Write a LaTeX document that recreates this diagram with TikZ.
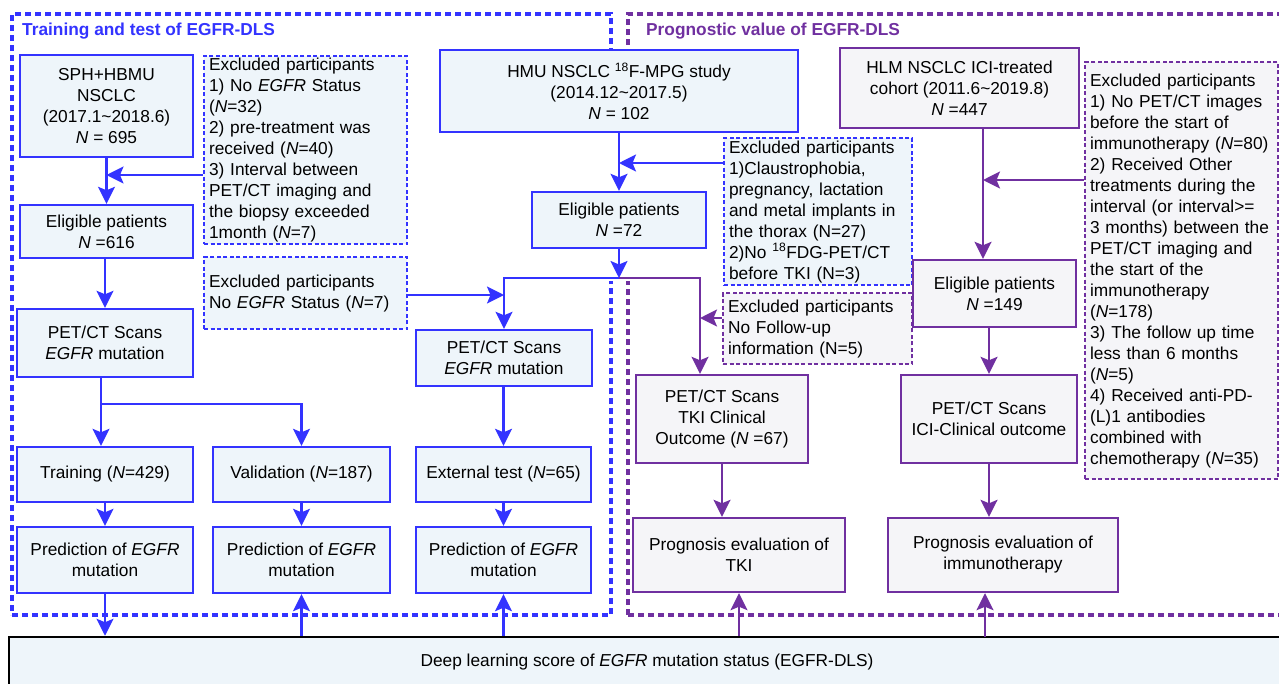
\documentclass[tikz,border=0pt]{standalone}
\usepackage{fontspec}
\setmainfont{Liberation Sans}
\usepackage{tikz}
\usetikzlibrary{arrows.meta,positioning,calc}
\definecolor{dlsblue}{RGB}{51,51,255}
\definecolor{dlspurple}{RGB}{112,48,160}
\definecolor{dlsbluefill}{RGB}{238,245,250}
\definecolor{dlsgrayfill}{RGB}{245,245,248}

\begin{document}
\begin{tikzpicture}[x=1pt, y=-1pt, >={Stealth[length=17pt,width=17pt,inset=3.5pt]},
    every node/.style={font=\fontsize{17.3}{21}\selectfont},
    bluebox/.style={draw=dlsblue, line width=2.4pt, fill=dlsbluefill, rectangle, align=center, inner sep=2pt},
    purplebox/.style={draw=dlspurple, line width=2.4pt, fill=dlsgrayfill, rectangle, align=center, inner sep=2pt},
    blueexcl/.style={draw=dlsblue, line width=2.2pt, dash pattern=on 4pt off 2.5pt, fill=dlsbluefill, align=left, anchor=north west, inner xsep=5pt, inner ysep=2pt},
    purpleexcl/.style={draw=dlspurple, line width=2.2pt, dash pattern=on 4pt off 2.5pt, fill=dlsgrayfill, align=left, anchor=north west, inner xsep=5pt, inner ysep=2pt},
    frame/.style={line width=3.2pt, dash pattern=on 6pt off 4pt, minimum width=#1},
    bluearrow/.style={draw=dlsblue, line width=2.2pt, ->},
    purplearrow/.style={draw=dlspurple, line width=2.2pt, ->}]
    \useasboundingbox (0,0) rectangle (1279,683);

    \node [frame=599pt, draw=dlsblue, minimum height=601pt] (trainframe) at (311.5,314.5) {};
    \node [frame=662pt, draw=dlspurple, minimum height=601pt] (progframe) at (959,314.5) {};
    \fill [white] (600,50) rectangle (640,281);
    \node [anchor=west, inner sep=0pt, text=dlsblue, font=\fontsize{17.3}{21}\selectfont\bfseries] (traintitle) at (22,31) {Training and test of EGFR-DLS};
    \node [anchor=west, inner sep=0pt, text=dlspurple, font=\fontsize{17.3}{21}\selectfont\bfseries] (progtitle) at (646,31) {Prognostic value of EGFR-DLS};

    \node [bluebox, minimum width=173pt, minimum height=102pt] (sph) at (106.5,106) {SPH+HBMU\\NSCLC\\(2017.1\textasciitilde2018.6)\\\textit{N} = 695};
    \node [bluebox, minimum width=173pt, minimum height=53pt] (elig1) at (106.5,231.5) {Eligible patients\\\textit{N} =616};
    \node [bluebox, minimum width=176pt, minimum height=68pt] (pet1) at (105,343) {PET/CT Scans\\\textit{EGFR} mutation};
    \node [bluebox, minimum width=176pt, minimum height=55pt] (train) at (105,474.5) {Training (\textit{N}=429)};
    \node [bluebox, minimum width=177pt, minimum height=55pt] (valid) at (301.5,474.5) {Validation (\textit{N}=187)};
    \node [bluebox, minimum width=175pt, minimum height=55pt] (ext) at (503.5,474.5) {External test (\textit{N}=65)};
    \node [bluebox, minimum width=176pt, minimum height=66pt] (pred1) at (105,560) {Prediction of \textit{EGFR}\\mutation};
    \node [bluebox, minimum width=177pt, minimum height=66pt] (pred2) at (301.5,560) {Prediction of \textit{EGFR}\\mutation};
    \node [bluebox, minimum width=175pt, minimum height=66pt] (pred3) at (503.5,560) {Prediction of \textit{EGFR}\\mutation};
    \node [bluebox, minimum width=176pt, minimum height=56pt] (pet2) at (504,358) {PET/CT Scans\\\textit{EGFR} mutation};
    \node [bluebox, minimum width=358pt, minimum height=82pt] (hmu) at (619,91) {HMU NSCLC \textsuperscript{18}F-MPG study\\(2014.12\textasciitilde2017.5)\\\textit{N} = 102};
    \node [bluebox, minimum width=174pt, minimum height=56pt] (elig2) at (619,220) {Eligible patients\\\textit{N} =72};

    \node [blueexcl, minimum height=188pt, text width=193pt] (excl1) at (203,55) {Excluded participants\\1) No \textit{EGFR} Status\\(\textit{N}=32)\\2) pre-treatment was\\received (\textit{N}=40)\\3) Interval between\\PET/CT imaging and\\the biopsy exceeded\\1month (\textit{N}=7)};
    \node [blueexcl, minimum height=72pt, text width=193pt] (excl2) at (203,256) {Excluded participants\\No \textit{EGFR} Status (\textit{N}=7)};
    \node [blueexcl, minimum height=147pt, text width=178pt] (excl3) at (723,137) {Excluded participants\\1)Claustrophobia,\\pregnancy, lactation\\and metal implants in\\the thorax (N=27)\\2)No \textsuperscript{18}FDG-PET/CT\\before TKI (N=3)};

    \node [purplebox, minimum width=239pt, minimum height=80pt] (hlm) at (959.5,88) {HLM NSCLC ICI-treated\\cohort (2011.6\textasciitilde2019.8)\\\textit{N} =447};
    \node [purplebox, minimum width=163pt, minimum height=67pt] (elig3) at (994.5,293.5) {Eligible patients\\\textit{N} =149};
    \node [purplebox, minimum width=172pt, minimum height=88pt] (pet3) at (722,419) {PET/CT Scans\\TKI Clinical\\Outcome (\textit{N} =67)};
    \node [purplebox, minimum width=176pt, minimum height=88pt] (pet4) at (989,419) {PET/CT Scans\\ICI-Clinical outcome};
    \node [purplebox, minimum width=212pt, minimum height=74pt] (prog1) at (739,555) {Prognosis evaluation of\\TKI};
    \node [purplebox, minimum width=230pt, minimum height=74pt] (prog2) at (1003,555) {Prognosis evaluation of\\immunotherapy};

    \node [purpleexcl, minimum height=417pt, text width=183pt] (excl4) at (1084,61) {Excluded participants\\1) No PET/CT images\\before the start of\\immunotherapy (\textit{N}=80)\\2) Received Other\\treatments during the\\interval (or interval>=\\3 months) between the\\PET/CT imaging and\\the start of the\\immunotherapy\\(\textit{N}=178)\\3) The follow up time\\less than 6 months\\(\textit{N}=5)\\4) Received anti-PD-\\(L)1 antibodies\\combined with\\chemotherapy (\textit{N}=35)};
    \node [purpleexcl, minimum height=71pt, text width=179pt] (excl5) at (722,292) {Excluded participants\\No Follow-up\\information (N=5)};

    \node [draw=black, line width=2.5pt, fill=dlsbluefill, minimum width=1276pt, minimum height=50pt] (dls) at (647,662) {Deep learning score of \textit{EGFR} mutation status (EGFR-DLS)};

    \coordinate (j1) at (106.5,175);
    \coordinate (split1) at (101,404);
    \coordinate (j3) at (619,163);
    \coordinate (split2) at (619,278);
    \coordinate (tkidrop) at (700,278);
    \coordinate (j2) at (504,295);
    \coordinate (j5) at (700,318);
    \coordinate (j4) at (983,180);
    \coordinate (immup) at (985,637);

    \draw [bluearrow] (sph) -- (elig1);
    \draw [bluearrow] (excl1.west |- j1) -- (j1);
    \draw [bluearrow] (elig1.south -| pet1) -- (pet1.north);
    \draw [bluearrow] (pet1.south -| split1) -- (train.north -| split1);
    \draw [bluearrow] (split1) -| (valid.north);
    \draw [bluearrow] (train) -- (pred1);
    \draw [bluearrow] (valid) -- (pred2);
    \draw [bluearrow] (ext) -- (pred3);
    \draw [bluearrow] (pred1) -- (pred1 |- dls.north);
    \draw [bluearrow] (pred2 |- dls.north) -- (pred2);
    \draw [bluearrow] (pred3 |- dls.north) -- (pred3);
    \draw [bluearrow] (pet2.south -| ext) -- (ext.north);
    \draw [bluearrow] (hmu) -- (elig2);
    \draw [bluearrow] (excl3.west |- j3) -- (j3);
    \draw [bluearrow] (elig2) -- (split2);
    \draw [bluearrow] (split2) -| (pet2.north);
    \draw [bluearrow] (excl2.east |- j2) -- (j2);

    \draw [purplearrow] (split2) -- (tkidrop) -- (tkidrop |- pet3.north);
    \draw [purplearrow] (excl5.west |- j5) -- (j5);
    \draw [purplearrow] (hlm.south -| j4) -- (elig3.north -| j4);
    \draw [purplearrow] (excl4.west |- j4) -- (j4);
    \draw [purplearrow] (elig3.south -| pet4) -- (pet4.north);
    \draw [purplearrow] (pet4) -- (pet4 |- prog2.north);
    \draw [purplearrow] (pet3) -- (pet3 |- prog1.north);
    \draw [purplearrow] (prog1 |- dls.north) -- (prog1);
    \draw [purplearrow] (immup) -- (immup |- prog2.south);
\end{tikzpicture}
\end{document}
